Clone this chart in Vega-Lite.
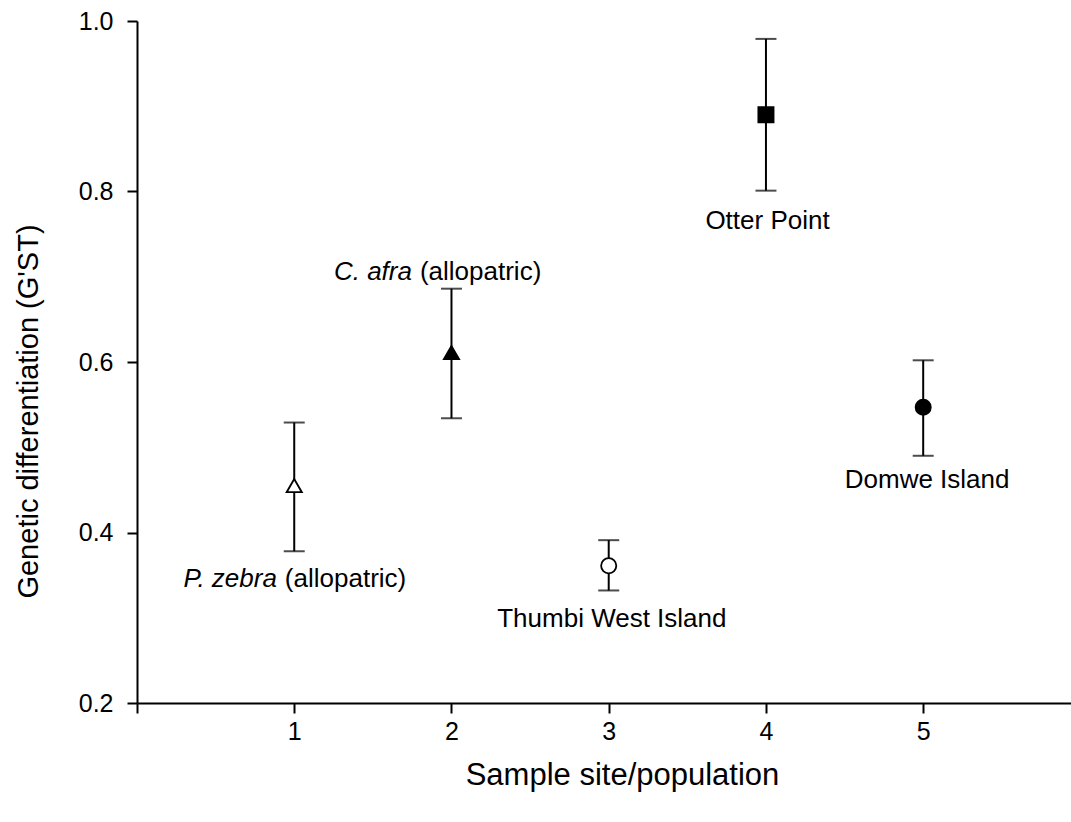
{
  "$schema": "https://vega.github.io/schema/vega-lite/v6.json",
  "width": 934,
  "height": 682,
  "autosize": {"type": "none"},
  "padding": {"left": 137, "top": 21, "right": 0, "bottom": 119},
  "background": "white",
  "config": {
    "view": {"stroke": null},
    "font": "Liberation Sans",
    "axis": {
      "grid": false,
      "domainColor": "black",
      "domainWidth": 2,
      "tickColor": "black",
      "tickWidth": 2,
      "tickSize": 10,
      "labelFont": "Liberation Sans",
      "labelFontSize": 25,
      "labelColor": "black",
      "titleFont": "Liberation Sans",
      "titleFontSize": 29,
      "titleFontWeight": "normal",
      "titleColor": "black"
    }
  },
  "datasets": {
    "sites": [
      {"site": 1, "population": "P. zebra (allopatric)", "gst": 0.455, "lower": 0.378, "upper": 0.529},
      {"site": 2, "population": "C. afra (allopatric)", "gst": 0.611, "lower": 0.534, "upper": 0.686},
      {"site": 3, "population": "Thumbi West Island", "gst": 0.361, "lower": 0.332, "upper": 0.391},
      {"site": 4, "population": "Otter Point", "gst": 0.89, "lower": 0.801, "upper": 0.979},
      {"site": 5, "population": "Domwe Island", "gst": 0.547, "lower": 0.49, "upper": 0.602}
    ],
    "species_labels": [
      {"species": "P. zebra", "note": "(allopatric)", "x": 0.915, "y": 0.345},
      {"species": "C. afra", "note": "(allopatric)", "x": 1.774, "y": 0.706}
    ],
    "site_labels": [
      {"label": "Thumbi West Island", "x": 3.02, "y": 0.299},
      {"label": "Otter Point", "x": 4.01, "y": 0.765},
      {"label": "Domwe Island", "x": 5.025, "y": 0.461}
    ]
  },
  "layer": [
    {
      "mark": {"type": "rule", "color": "black", "strokeWidth": 2},
      "encoding": {"y": {"datum": 1.0, "type": "quantitative", "scale": {"domain": [0.2, 1.0], "nice": false}}}
    },
    {
      "data": {"name": "sites"},
      "mark": {"type": "rule", "color": "black", "strokeWidth": 2},
      "encoding": {
        "x": {
          "field": "site", "type": "quantitative",
          "scale": {"domain": [0, 5.94], "nice": false, "zero": false},
          "axis": {
            "values": [0, 1, 2, 3, 4, 5],
            "format": "d",
            "labelExpr": "datum.value == 0 ? '' : datum.label",
            "labelPadding": 6,
            "title": "Sample site/population",
            "titleFontSize": 31,
            "titleX": 485,
            "titleY": 72,
            "titleAlign": "center",
            "titleBaseline": "middle"
          }
        },
        "y": {
          "field": "lower", "type": "quantitative",
          "scale": {"domain": [0.2, 1.0], "nice": false, "zero": false},
          "axis": {
            "values": [0.2, 0.4, 0.6, 0.8, 1.0],
            "format": ".1f",
            "labelPadding": 14,
            "title": "Genetic differentiation (G'ST)",
            "titleX": -109,
            "titleY": 390,
            "titleAngle": 270,
            "titleAlign": "center",
            "titleBaseline": "middle"
          }
        },
        "y2": {"field": "upper"}
      }
    },
    {
      "data": {"name": "sites"},
      "mark": {"type": "tick", "orient": "horizontal", "color": "black", "size": 21, "thickness": 2},
      "encoding": {
        "x": {"field": "site", "type": "quantitative"},
        "y": {"field": "upper", "type": "quantitative"}
      }
    },
    {
      "data": {"name": "sites"},
      "mark": {"type": "tick", "orient": "horizontal", "color": "black", "size": 21, "thickness": 2},
      "encoding": {
        "x": {"field": "site", "type": "quantitative"},
        "y": {"field": "lower", "type": "quantitative"}
      }
    },
    {
      "data": {"name": "sites"},
      "mark": {"type": "point", "filled": true, "stroke": "black", "strokeWidth": 1.8, "opacity": 1},
      "encoding": {
        "x": {"field": "site", "type": "quantitative"},
        "y": {"field": "gst", "type": "quantitative"},
        "shape": {
          "field": "population", "type": "nominal", "legend": null,
          "scale": {
            "domain": ["P. zebra (allopatric)", "C. afra (allopatric)", "Thumbi West Island", "Otter Point", "Domwe Island"],
            "range": ["triangle-up", "triangle-up", "circle", "square", "circle"]
          }
        },
        "fill": {
          "field": "population", "type": "nominal", "legend": null,
          "scale": {
            "domain": ["P. zebra (allopatric)", "C. afra (allopatric)", "Thumbi West Island", "Otter Point", "Domwe Island"],
            "range": ["white", "black", "white", "black", "black"]
          }
        },
        "size": {
          "field": "population", "type": "nominal", "legend": null,
          "scale": {
            "domain": ["P. zebra (allopatric)", "C. afra (allopatric)", "Thumbi West Island", "Otter Point", "Domwe Island"],
            "range": [230, 230, 200, 200, 250]
          }
        }
      }
    },
    {
      "data": {"name": "species_labels"},
      "mark": {"type": "text", "align": "right", "baseline": "middle", "dx": -4, "fontSize": 26, "fontStyle": "italic", "font": "Liberation Sans", "color": "black"},
      "encoding": {
        "x": {"field": "x", "type": "quantitative"},
        "y": {"field": "y", "type": "quantitative"},
        "text": {"field": "species"}
      }
    },
    {
      "data": {"name": "species_labels"},
      "mark": {"type": "text", "align": "left", "baseline": "middle", "dx": 4, "fontSize": 26, "font": "Liberation Sans", "color": "black"},
      "encoding": {
        "x": {"field": "x", "type": "quantitative"},
        "y": {"field": "y", "type": "quantitative"},
        "text": {"field": "note"}
      }
    },
    {
      "data": {"name": "site_labels"},
      "mark": {"type": "text", "align": "center", "baseline": "middle", "fontSize": 26, "font": "Liberation Sans", "color": "black"},
      "encoding": {
        "x": {"field": "x", "type": "quantitative"},
        "y": {"field": "y", "type": "quantitative"},
        "text": {"field": "label"}
      }
    }
  ]
}
